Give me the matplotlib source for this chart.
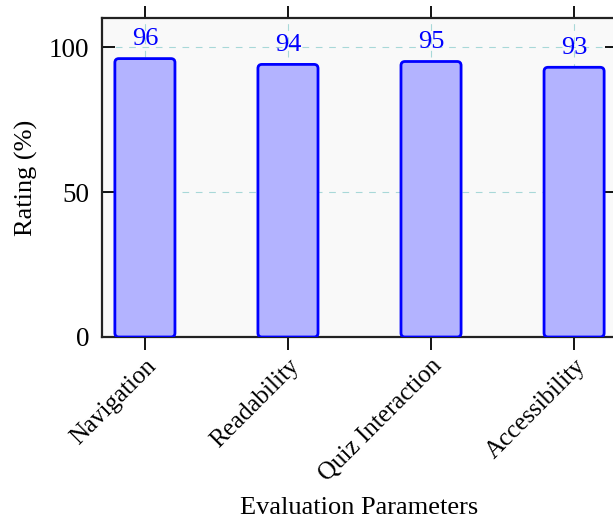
import matplotlib.pyplot as plt
from matplotlib.patches import FancyBboxPatch

# data
params = ['Navigation', 'Readability', 'Quiz Interaction', 'Accessibility']
ratings = [96, 94, 95, 93]

plt.rcParams['font.family'] = ['Liberation Serif', 'DejaVu Serif']

fig = plt.figure(figsize=(6.13, 5.21), dpi=100)
ax = fig.add_axes([102 / 613, 184 / 521, 515 / 613, 319 / 521])
ax.set_facecolor('#f9f9f9')

x = list(range(len(params)))
bars = ax.bar(x, ratings, width=0.42, color='none', edgecolor='none')

# rounded bars
aspect = (515 / 3.6) / (319 / 110)
for b in bars:
    p = FancyBboxPatch((b.get_x(), b.get_y()), b.get_width(), b.get_height(),
                       boxstyle='round,pad=0,rounding_size=0.028',
                       mutation_aspect=aspect,
                       facecolor='#b3b3ff', edgecolor='#0000ff',
                       linewidth=2, zorder=3)
    ax.add_patch(p)

for xi, r in zip(x, ratings):
    ax.annotate(str(r), (xi, r), xytext=(0, 6), textcoords='offset points',
                ha='center', va='bottom', color='#0000ff', fontsize=19)

ax.set_xlim(-0.3, 3.3)
ax.set_ylim(0, 110)
ax.set_yticks([0, 50, 100])
ax.set_xticks(x)
ax.set_xticklabels(params, rotation=45, ha='right', rotation_mode='anchor')

ax.grid(True, linestyle=(0, (6, 6)), color='#a8d8d8', linewidth=0.8, zorder=0)
ax.set_axisbelow(True)

ax.tick_params(axis='x', direction='out', length=9, width=1.3, top=True,
               labelsize=18, pad=4)
ax.tick_params(axis='y', direction='in', length=9, width=1.3, right=True,
               labelsize=19.5, pad=9)
for s in ax.spines.values():
    s.set_linewidth(1.6)
    s.set_color('#222222')

ax.set_xlabel('Evaluation Parameters', fontsize=19)
ax.xaxis.set_label_coords(0.5, -0.5)
ax.set_ylabel('Rating (%)', fontsize=19, labelpad=8)

fig.savefig('out.png', dpi=100)
